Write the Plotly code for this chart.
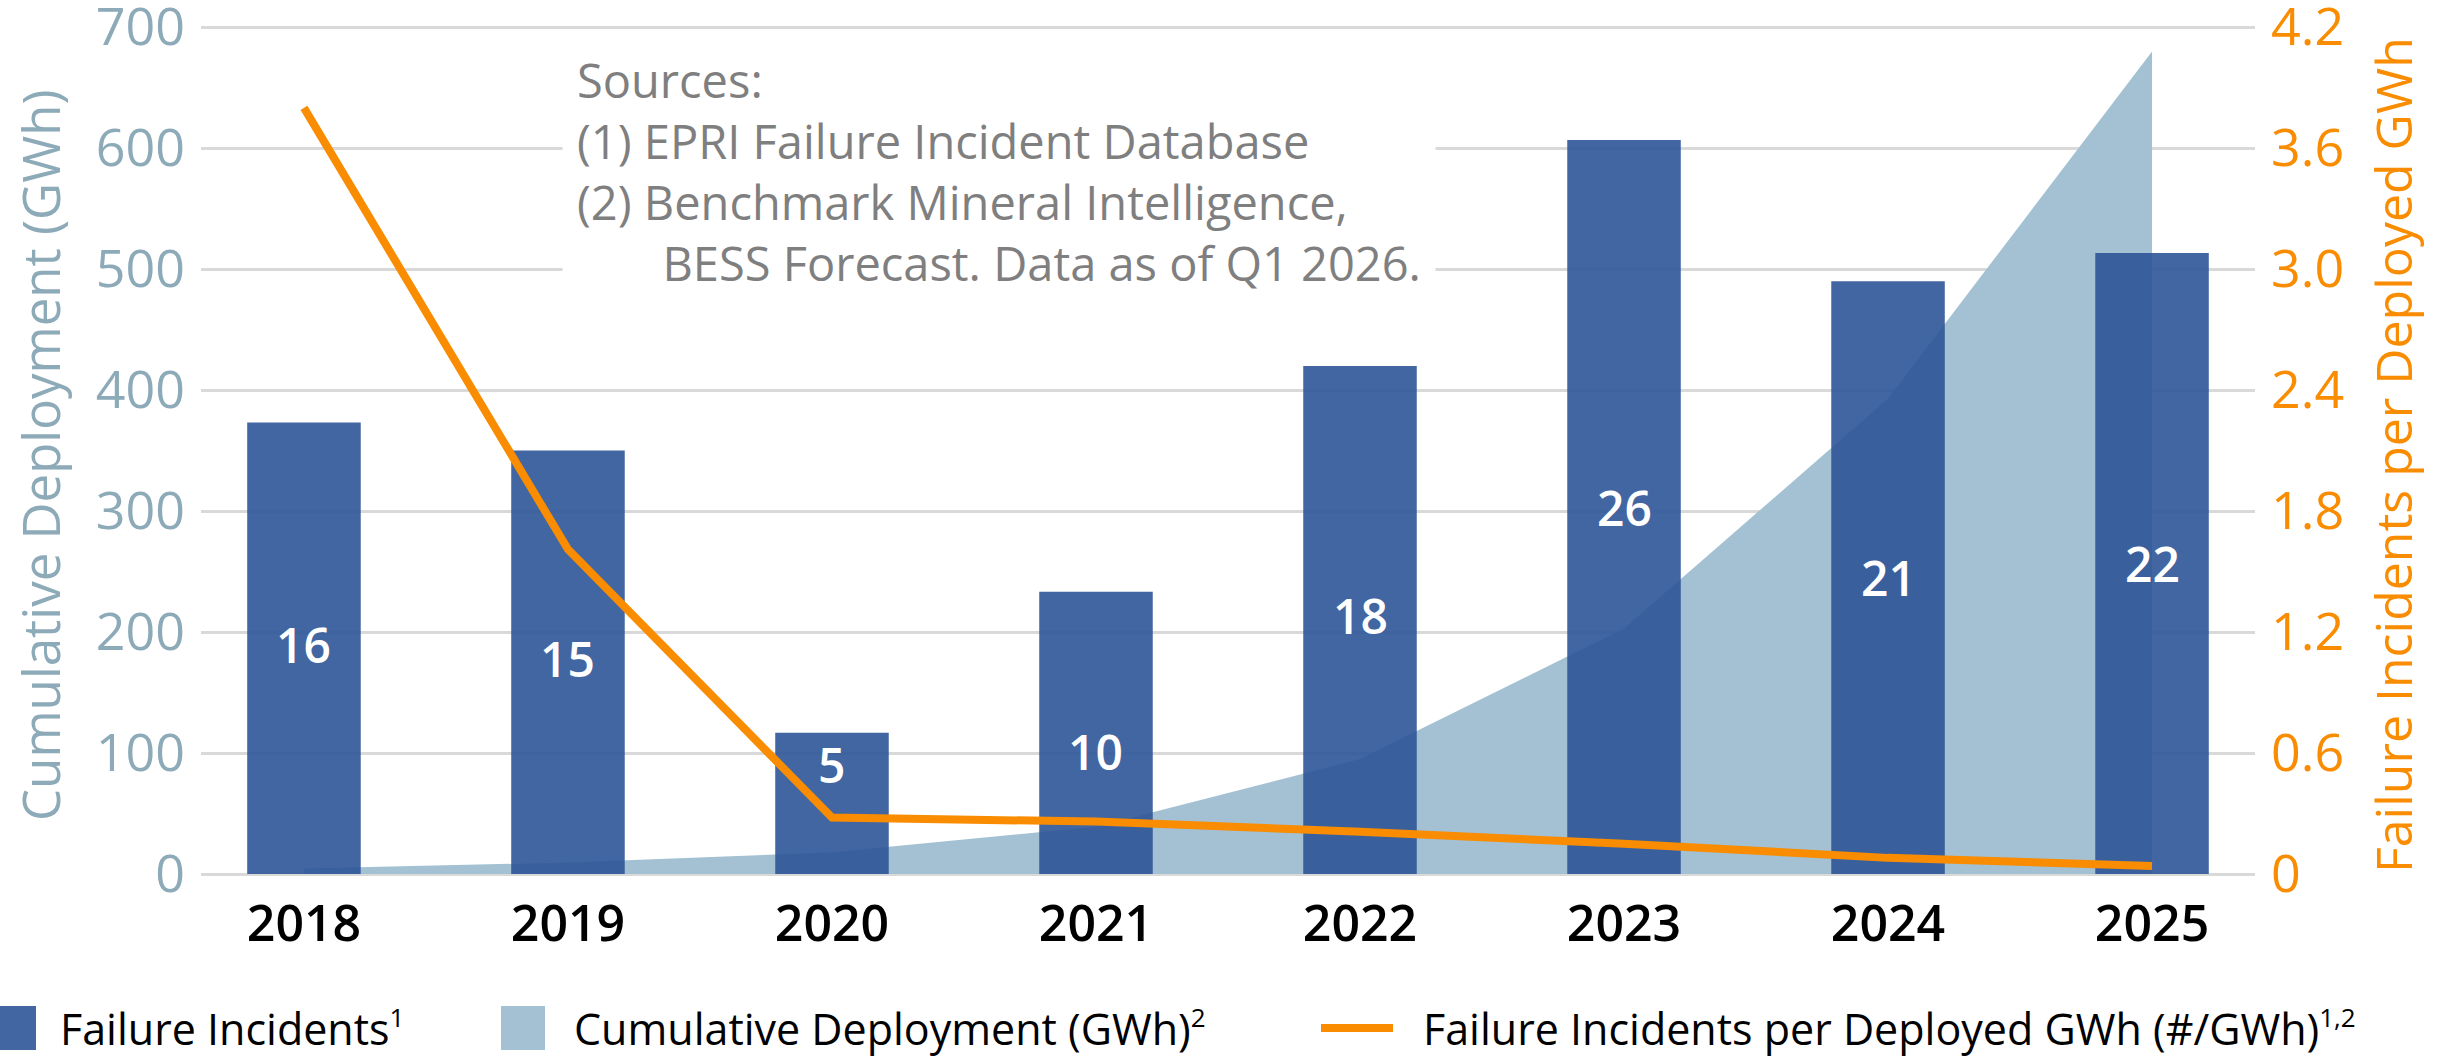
import plotly.graph_objects as go

# ---- data ----
years = [2018, 2019, 2020, 2021, 2022, 2023, 2024, 2025]
failure_incidents = [16, 15, 5, 10, 18, 26, 21, 22]
cumulative_gwh = [4.5, 9.5, 18, 39, 95, 203, 393, 680]
incidents_per_gwh = [3.8, 1.61, 0.28, 0.26, 0.21, 0.15, 0.08, 0.04]

left_tickvals = [0, 100, 200, 300, 400, 500, 600, 700]
right_tickvals = [0, 0.6, 1.2, 1.8, 2.4, 3.0, 3.6, 4.2]
right_ticktext = ["0", "0.6", "1.2", "1.8", "2.4", "3.0", "3.6", "4.2"]

source_lines = [
    "Sources:",
    "(1) EPRI Failure Incident Database",
    "(2) Benchmark Mineral Intelligence,",
    "BESS Forecast. Data as of Q1 2026.",
]
legend_names = [
    "Failure Incidents",
    "Cumulative Deployment (GWh)",
    "Failure Incidents per Deployed GWh (#/GWh)",
]
legend_notes = ["1", "2", "1,2"]

# ---- styling ----
FONT = "Open Sans"
BAR_COLOR = "rgba(46,85,151,0.9)"
AREA_COLOR = "#A3C1D3"
LINE_COLOR = "#F98C00"
AXIS_BLUE = "#8DAAB8"
GRID = "#D9D9D9"
SOURCE_GRAY = "#7F7F7F"

# vertical nudges (px) for the in-bar labels that sit near the line
label_nudge = [4, 4, 39, -19, 4, 0, 0, 0]

W, H = 2440, 1058
L, R, T, B = 201, 185, 26, 184
PW, PH = W - L - R, H - T - B
TOP = 701  # a hair above the 700 gridline so it is drawn


def px_x(x):
    return (x - L) / PW


def px_y(y):
    return (H - B - y) / PH


fig = go.Figure()

# cumulative deployment (area, left axis)
fig.add_trace(go.Scatter(
    x=years, y=cumulative_gwh, mode="none", fill="tozeroy",
    fillcolor=AREA_COLOR, name=legend_names[1],
    yaxis="y", showlegend=False,
))

# failure incidents (bars, hidden count axis)
fig.add_trace(go.Bar(
    x=years, y=failure_incidents, width=0.43,
    marker=dict(color=BAR_COLOR, line=dict(width=0)),
    name=legend_names[0], yaxis="y2", showlegend=False,
))

# incidents per deployed GWh (line, right axis)
fig.add_trace(go.Scatter(
    x=years, y=incidents_per_gwh, mode="lines",
    line=dict(color=LINE_COLOR, width=8),
    name=legend_names[2], yaxis="y3", showlegend=False,
))

fig.update_layout(
    width=W, height=H,
    margin=dict(l=L, r=R, t=T, b=B, autoexpand=False),
    paper_bgcolor="white", plot_bgcolor="white",
    font=dict(family=FONT),
    showlegend=False,
    xaxis=dict(
        range=[2017.61, 2025.39], tickvals=years, ticktext=[str(y) for y in years],
        tickfont=dict(family=FONT, size=50, color="black", weight=600),
        showgrid=False, zeroline=False, showline=False, ticks="",
        ticklabelstandoff=16, automargin=False,
    ),
    yaxis=dict(
        range=[0, TOP], tickvals=left_tickvals,
        tickfont=dict(family=FONT, size=52, color=AXIS_BLUE),
        showgrid=True, gridcolor=GRID, gridwidth=3,
        zeroline=True, zerolinecolor=GRID, zerolinewidth=3,
        showline=False, ticks="", ticklabelstandoff=15,
        ticklabeloverflow="allow", automargin=False,
    ),
    yaxis2=dict(range=[0, 30 * TOP / 700], overlaying="y", visible=False,
                automargin=False),
    yaxis3=dict(
        range=[0, 4.2 * TOP / 700], overlaying="y", side="right",
        tickvals=right_tickvals, ticktext=right_ticktext,
        tickfont=dict(family=FONT, size=52, color=LINE_COLOR),
        showgrid=False, zeroline=False, showline=False, ticks="",
        ticklabelstandoff=15, ticklabeloverflow="allow", automargin=False,
    ),
)

annotations = []

# in-bar value labels
for yr, n, dy in zip(years, failure_incidents, label_nudge):
    annotations.append(dict(
        x=yr, y=n / 2, xref="x", yref="y2", text=str(n), showarrow=False,
        xanchor="center", yanchor="middle", yshift=dy,
        font=dict(family=FONT, size=48, color="white", weight=600),
    ))

# axis titles
annotations.append(dict(
    text="Cumulative Deployment (GWh)", xref="paper", yref="paper",
    x=px_x(40), y=px_y(455), xanchor="center", yanchor="middle",
    textangle=-90, showarrow=False,
    font=dict(family=FONT, size=51, color=AXIS_BLUE),
))
annotations.append(dict(
    text="Failure Incidents per Deployed GWh", xref="paper", yref="paper",
    x=px_x(2393), y=px_y(455), xanchor="center", yanchor="middle",
    textangle=-90, showarrow=False,
    font=dict(family=FONT, size=50, color=LINE_COLOR),
))

# sources note
indent = "&nbsp;" * 7
src_text = "<br>".join(source_lines[:3] + [indent + source_lines[3]])
annotations.append(dict(
    text=src_text, xref="paper", yref="paper",
    x=px_x(562), y=px_y(171), xanchor="left", yanchor="middle", align="left",
    showarrow=False, bgcolor="white", borderpad=14,
    font=dict(family=FONT, size=47, color=SOURCE_GRAY),
))

# legend
shapes = []
LEG_Y = 1028
S = 22
shapes.append(dict(type="rect", xref="paper", yref="paper",
                   x0=px_x(-8), x1=px_x(36), y0=px_y(LEG_Y - S), y1=px_y(LEG_Y + S),
                   fillcolor=BAR_COLOR, line=dict(width=0)))
shapes.append(dict(type="rect", xref="paper", yref="paper",
                   x0=px_x(501), x1=px_x(545), y0=px_y(LEG_Y - S), y1=px_y(LEG_Y + S),
                   fillcolor=AREA_COLOR, line=dict(width=0)))
shapes.append(dict(type="line", xref="paper", yref="paper",
                   x0=px_x(1321), x1=px_x(1393), y0=px_y(LEG_Y), y1=px_y(LEG_Y),
                   line=dict(color=LINE_COLOR, width=8)))
for name, note, lx in zip(legend_names, legend_notes, [58, 572, 1421]):
    annotations.append(dict(
        text=f"{name}<sup><span style='font-size:26px'>{note}</span></sup>",
        xref="paper", yref="paper",
        x=px_x(lx), y=px_y(LEG_Y), xanchor="left", yanchor="middle",
        showarrow=False, font=dict(family=FONT, size=43, color="black"),
    ))

fig.update_layout(annotations=annotations, shapes=shapes)

fig.write_html("out.html", post_script="document.body.style.margin='0';")
